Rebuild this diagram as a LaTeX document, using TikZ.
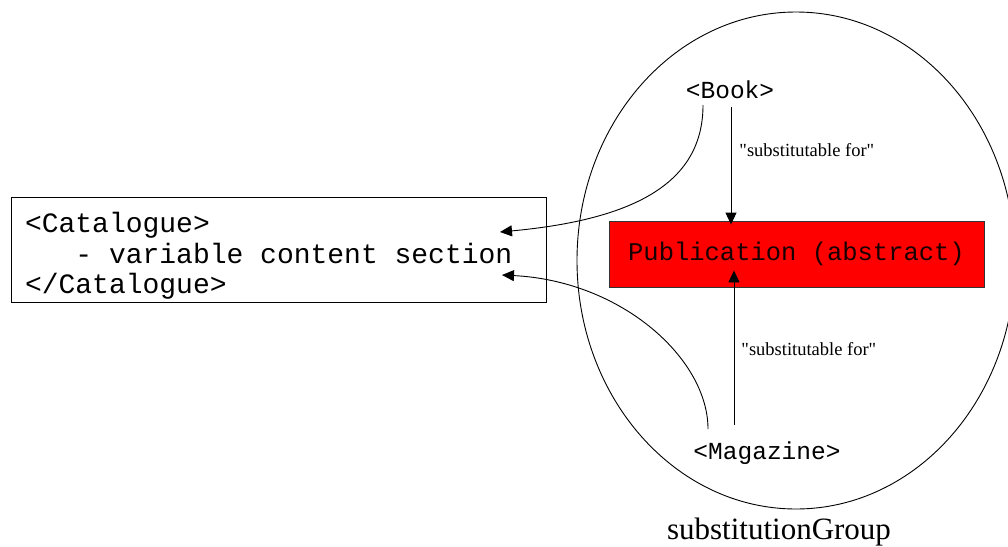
\documentclass[tikz,border=0pt]{standalone}
\usepackage{fontspec}
\setmainfont{Liberation Serif}
\newfontfamily\monofont{Liberation Mono}
\newcommand\monosp{\hspace*{0.6em}}
\usetikzlibrary{arrows.meta,shapes.geometric}
\begin{document}
\begin{tikzpicture}[x=1pt,y=-1pt,
  line width=0.9pt,
  arr/.style={-{Triangle[length=12pt,width=11pt]}},
  mono/.style={font=\monofont\fontsize{24.5}{28}\selectfont, inner sep=0pt, text height=13pt, text depth=0pt},
  lbl/.style={font=\fontsize{18.5}{22}\selectfont, inner sep=0pt, anchor=west},
]
\useasboundingbox (0,0) rectangle (1008,546);

% group ellipse
\node[draw, ellipse, inner sep=0pt, minimum width=438pt, minimum height=497pt] (group) at (796,260.5) {};
\node[font=\fontsize{31}{35}\selectfont, anchor=base, inner sep=0pt] (grouplbl) at (779,539) {substitutionGroup};

% catalogue
\node[draw, rectangle, minimum width=535pt, minimum height=105pt, inner sep=0pt,
      text width=507pt, align=left,
      font=\monofont\fontsize{28}{30.5}\selectfont] (cat) at (278.5,249.5)
  {\rule{0pt}{33pt}<Catalogue>\\\monosp\monosp\monosp-\monosp variable\monosp content\monosp section\\</Catalogue>};

% publication
\node[draw=black!80, fill=red, minimum width=375pt, minimum height=66pt, inner sep=0pt,
      font=\monofont\fontsize{25.5}{30}\selectfont, text=black!90!red] (pub) at (796.5,254) {Publication (abstract)};

% book and magazine
\node[mono] (book) at (730,92) {<Book>};
\node[mono] (mag) at (767,453) {<Magazine>};

% straight arrows
\draw[arr, shorten >=11pt] ([xshift=1pt,yshift=-15pt]book.center) -- ([xshift=1pt,yshift=-15pt]book.center |- pub.north);
\draw[arr, shorten >=11pt] ([xshift=-33pt,yshift=28pt]mag.center) -- ([xshift=-33pt,yshift=28pt]mag.center |- pub.south);

\node[lbl] (lbl1) at (739,150) {\textquotedbl substitutable for\textquotedbl};
\node[lbl] (lbl2) at (741,349) {\textquotedbl substitutable for\textquotedbl};

% curved arrows into the catalogue
\coordinate (tipA) at (500,232);
\coordinate (tipB) at (502,275);
\draw[arr] ([xshift=-27pt,yshift=-13pt]book.center) .. controls (703,180) and (640,219) .. (tipA);
\draw[arr] ([xshift=-59pt,yshift=24pt]mag.center) .. controls (708,359) and (622,281) .. (tipB);
\end{tikzpicture}
\end{document}
